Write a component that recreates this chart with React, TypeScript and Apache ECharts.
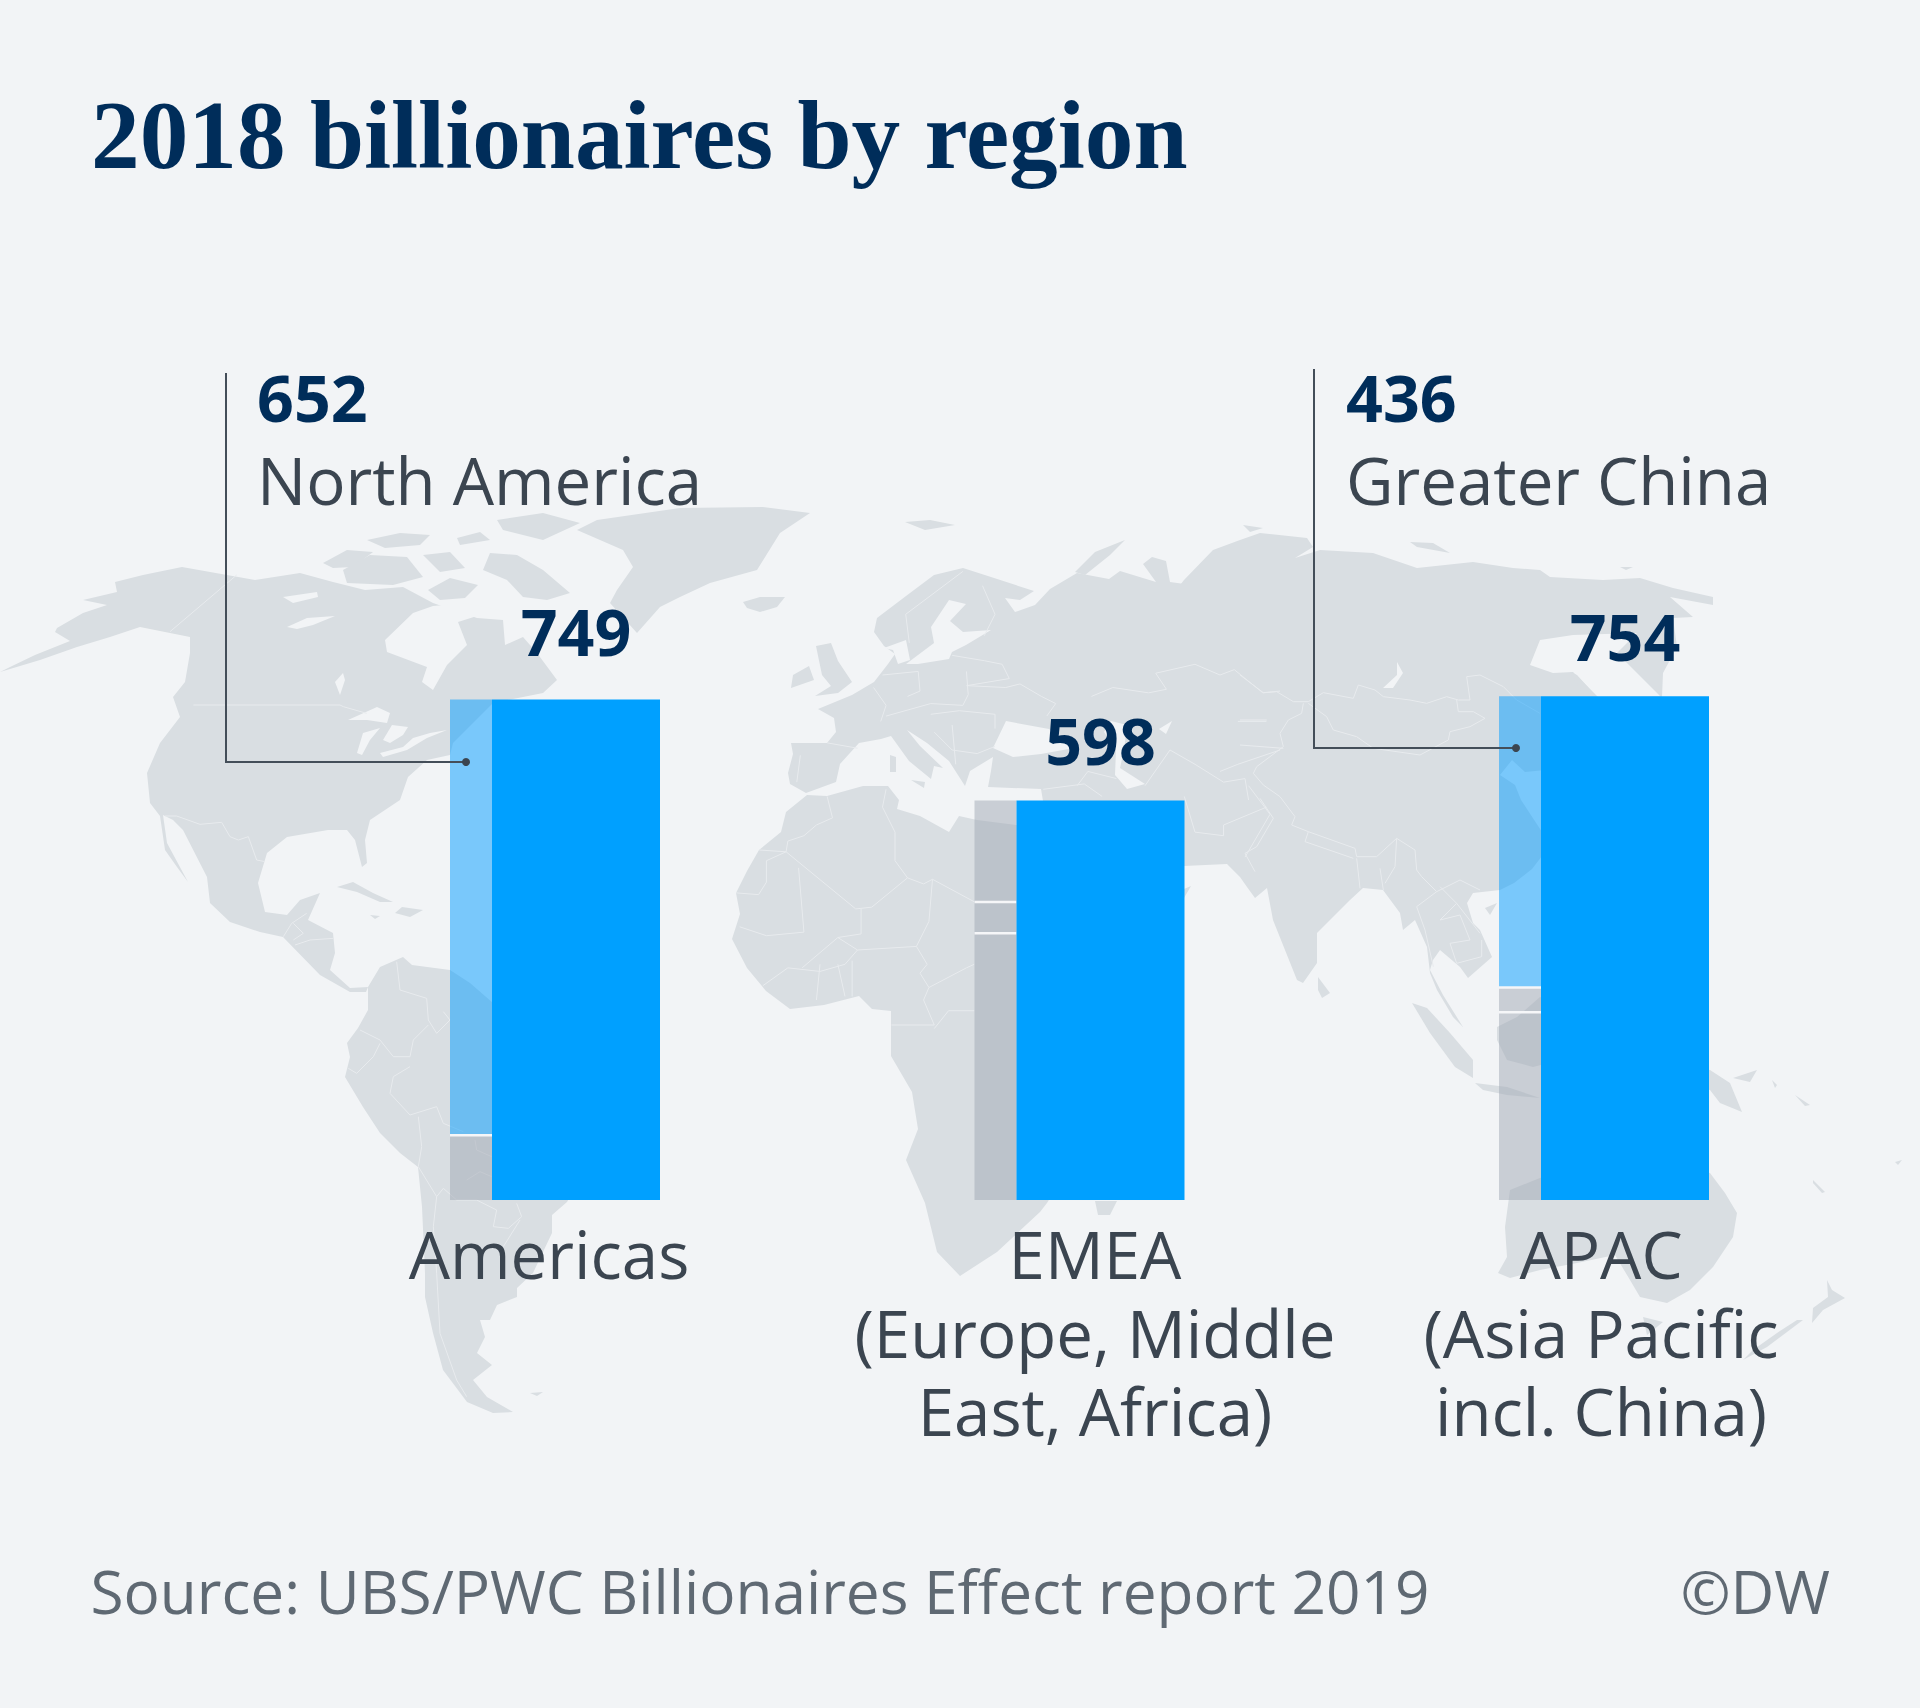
import React, { useEffect, useRef } from "react";
import * as echarts from "echarts";

// ---------- chart data ----------
const regions = ["Americas", "EMEA", "APAC"];
const totals = [749, 598, 754];
const totalLabelGap = [36, 28, 28];
const backBottom = [97, 399, 281];
const backMiddle: (number | string)[] = ["-", 47, 37];
const backTop = [652, 152, 436];
const backTopBlue = [true, false, true];
const regionLabels = [
  ["Americas"],
  ["EMEA", "(Europe, Middle", "East, Africa)"],
  ["APAC", "(Asia Pacific", "incl. China)"],
];
const regionLabelX = [549, 1095, 1601];
const callouts = [
  { name: "North America", region: 0, lineX: 226, topY: 373, elbowY: 762, dotX: 466, textX: 257 },
  { name: "Greater China", region: 2, lineX: 1314, topY: 369, elbowY: 748, dotX: 1516, textX: 1346 },
];
const title = "2018 billionaires by region";
const source = "Source: UBS/PWC Billionaires Effect report 2019";
const credit = "©DW";

// ---------- base map (page pixels) ----------
type P = number[][];
const land: P[] = [
  // North America
  [[115,582],[143,575],[182,567],[227,575],[255,580],[300,573],[333,582],[365,590],[403,587],[433,603],[477,618],[503,620],[505,645],[523,637],[537,653],[557,680],[543,693],[493,703],[453,743],[450,755],[427,760],[408,777],[400,800],[370,820],[365,840],[367,863],[362,867],[355,840],[347,830],[328,830],[287,837],[267,853],[258,883],[265,912],[287,915],[300,900],[320,893],[308,920],[333,933],[335,953],[330,970],[350,988],[368,987],[366,992],[350,992],[320,975],[283,937],[260,932],[230,922],[210,903],[207,877],[183,830],[173,820],[163,815],[167,843],[188,882],[177,867],[165,850],[160,816],[150,803],[147,773],[160,743],[180,717],[173,697],[185,682],[190,653],[190,637],[170,633],[140,627],[110,637],[77,647],[40,660],[0,672],[10,667],[35,655],[70,641],[55,632],[57,628],[83,613],[107,605],[83,600],[117,592]],
  // Arctic islands
  [[323,563],[347,550],[373,552],[353,567],[333,568]],
  [[343,570],[370,555],[407,557],[423,577],[393,585],[347,583]],
  [[490,553],[517,555],[543,570],[570,593],[547,600],[523,597],[507,580],[483,570]],
  [[497,520],[543,513],[580,523],[543,540],[503,530]],
  [[367,540],[400,533],[430,535],[420,545],[385,548]],
  [[457,538],[480,532],[490,540],[460,545]],
  [[423,555],[450,552],[465,568],[440,572]],
  [[428,590],[450,578],[478,585],[465,598],[440,600]],
  // Greenland
  [[577,530],[623,550],[633,567],[617,590],[610,603],[637,633],[660,607],[680,597],[710,583],[757,570],[780,533],[810,513],[763,507],[680,508],[597,520]],
  // Iceland
  [[743,602],[760,597],[785,597],[777,607],[760,612],[747,608]],
  // Caribbean
  [[337,887],[353,882],[373,893],[393,902],[380,902],[357,892]],
  [[402,907],[423,910],[410,917],[395,913]],
  [[370,915],[380,916],[375,919]],
  // South America
  [[368,987],[380,967],[403,957],[412,965],[450,970],[470,983],[493,1003],[560,1040],[600,1100],[590,1160],[567,1202],[552,1215],[552,1233],[533,1273],[517,1288],[517,1297],[497,1305],[490,1320],[480,1320],[485,1337],[477,1353],[492,1365],[473,1380],[487,1397],[513,1412],[493,1413],[467,1402],[443,1370],[433,1333],[425,1297],[425,1273],[422,1207],[418,1167],[400,1153],[380,1133],[363,1107],[345,1077],[350,1057],[347,1043],[358,1028],[368,1010]],
  [[530,1393],[543,1392],[537,1396]],
  // Africa
  [[807,795],[786,812],[781,832],[759,850],[747,871],[736,893],[740,914],[732,939],[747,968],[766,991],[790,1009],[824,1005],[859,996],[872,1009],[891,1011],[891,1056],[912,1092],[918,1129],[906,1160],[925,1203],[937,1252],[960,1276],[997,1252],[1040,1212],[1047,1203],[1080,1150],[1110,1080],[1150,960],[1184,898],[1191,886],[1184,889],[1140,880],[1060,830],[1016,825],[977,820],[959,816],[949,832],[920,816],[897,809],[899,800],[888,786],[863,786],[827,796]],
  [[1095,1201],[1117,1201],[1110,1215],[1098,1215]],
  // Eurasia
  [[806,793],[790,784],[788,773],[793,754],[791,743],[827,743],[836,732],[834,718],[818,709],[852,695],[874,682],[888,664],[895,654],[884,646],[874,632],[877,618],[906,596],[934,575],[963,568],[991,577],[1034,591],[1020,600],[1005,598],[1015,612],[1035,605],[1050,589],[1077,573],[1109,579],[1120,571],[1156,582],[1143,564],[1152,557],[1166,561],[1170,582],[1199,586],[1174,593],[1184,580],[1213,550],[1240,540],[1260,533],[1307,538],[1313,547],[1295,558],[1320,550],[1373,553],[1417,568],[1473,562],[1513,568],[1540,570],[1550,577],[1603,580],[1640,578],[1673,588],[1713,597],[1713,605],[1670,597],[1693,617],[1673,618],[1677,647],[1663,673],[1662,697],[1650,720],[1620,760],[1570,800],[1545,770],[1525,772],[1512,760],[1500,775],[1515,785],[1521,800],[1542,832],[1542,856],[1532,869],[1514,883],[1500,890],[1473,893],[1467,903],[1473,923],[1480,930],[1492,957],[1468,978],[1460,967],[1440,950],[1433,960],[1430,970],[1443,995],[1463,1027],[1453,1017],[1437,990],[1430,973],[1427,947],[1415,920],[1403,930],[1400,913],[1383,890],[1363,888],[1350,900],[1317,933],[1317,963],[1303,983],[1297,980],[1273,920],[1267,888],[1255,898],[1247,887],[1240,877],[1227,864],[1184,866],[1120,850],[1043,801],[1041,789],[988,787],[991,771],[993,757],[970,771],[965,786],[949,761],[927,743],[907,730],[920,746],[943,768],[934,766],[931,779],[909,761],[891,736],[881,739],[859,743],[840,764],[836,782]],
  // British Isles, Med islands
  [[816,646],[831,643],[838,661],[852,682],[838,693],[815,696],[831,686],[822,675]],
  [[793,675],[809,666],[814,680],[791,688]],
  [[911,780],[925,782],[924,788]],
  [[890,755],[896,757],[896,772],[890,772]],
  // Arctic Eurasia
  [[905,522],[930,520],[955,525],[925,530]],
  [[1075,572],[1095,552],[1125,540],[1110,555],[1085,575]],
  [[1410,542],[1433,543],[1450,553],[1417,547]],
  [[1620,567],[1633,567],[1626,570]],
  [[1243,525],[1263,528],[1250,532]],
  // SE Asia, Oceania
  [[1318,977],[1330,993],[1322,998],[1318,990]],
  [[1485,908],[1497,903],[1490,915]],
  [[1412,1003],[1427,1008],[1450,1033],[1473,1060],[1473,1078],[1455,1067],[1430,1033]],
  [[1475,1083],[1507,1087],[1540,1098],[1507,1095],[1483,1090]],
  [[1497,1027],[1517,1017],[1540,997],[1570,1010],[1560,1060],[1533,1067],[1507,1060],[1497,1040]],
  [[1650,1060],[1710,1070],[1730,1083],[1742,1112],[1720,1103],[1710,1090],[1660,1080]],
  [[1733,1078],[1757,1070],[1750,1082]],
  [[1772,1080],[1777,1085],[1775,1088]],
  [[1795,1095],[1810,1105],[1805,1106]],
  [[1510,1190],[1530,1182],[1540,1178],[1620,1150],[1710,1173],[1725,1193],[1737,1213],[1733,1237],[1713,1267],[1690,1290],[1667,1303],[1640,1297],[1630,1280],[1615,1255],[1577,1263],[1540,1270],[1510,1278],[1498,1273],[1507,1257],[1505,1227]],
  [[1643,1317],[1663,1322],[1647,1335]],
  [[1827,1280],[1832,1290],[1845,1298],[1823,1310],[1812,1323],[1813,1308],[1828,1297]],
  [[1803,1320],[1767,1347],[1743,1360],[1753,1350],[1777,1333],[1797,1320]],
  [[1813,1180],[1825,1192],[1822,1193],[1813,1183]],
  [[1895,1162],[1902,1160],[1898,1165]],
];
const water: P[] = [
  // Hudson Bay and Strait
  [[385,640],[413,613],[433,606],[465,603],[500,610],[477,616],[458,622],[467,645],[447,665],[433,690],[422,682],[427,667],[387,652]],
  // Canadian & Great Lakes
  [[283,597],[317,592],[318,597],[293,603]],
  [[287,627],[307,618],[335,616],[313,625],[297,629]],
  [[335,682],[343,673],[345,680],[340,695]],
  [[348,720],[377,707],[390,713],[387,723],[367,720]],
  [[357,753],[363,733],[380,728],[370,740],[362,755]],
  [[383,740],[392,725],[408,727],[403,735],[390,743]],
  [[380,753],[403,747],[413,738],[430,733],[447,730],[427,738],[407,750],[383,757]],
  // Baltic, Skagerrak
  [[906,664],[934,643],[931,627],[949,600],[966,604],[950,621],[963,632],[991,630],[966,645],[952,652],[949,659],[918,664]],
  [[884,648],[906,640],[910,660],[898,664],[893,650]],
  // Black Sea, Caspian, Aral, Baikal
  [[993,748],[1006,721],[1027,725],[1049,729],[1074,748],[1041,754],[1013,757]],
  [[1111,721],[1127,725],[1124,750],[1120,768],[1145,784],[1127,789],[1115,775],[1116,750],[1104,732]],
  [[1159,729],[1172,721],[1166,734]],
  [[1397,662],[1403,673],[1393,688],[1383,688],[1397,675]],
  // Sea of Okhotsk
  [[1530,665],[1540,640],[1573,635],[1637,633],[1617,653],[1660,696],[1598,697],[1573,672],[1553,673]],
];
const lateLand: P[] = [
  [[1570,672],[1577,675],[1597,697],[1585,697]],
];
const zz = (ox: number, oy: number, s: number, lines: P[]): P[] =>
  lines.map((l) => l.map(([x, y]) => [ox + x / s, oy + y / s]));
const borders: P[] = [
  ...zz(0, 490, 3, [
    [[510,425],[710,255]],
    [[580,645],[1020,645],[1030,650],[1100,670]],
    [[495,978],[530,978],[600,1003],[665,997],[690,1040],[715,1050],[745,1040],[770,1110],[795,1115]],
    [[850,1340],[875,1300],[920,1270]],
    [[880,1350],[910,1330],[880,1300]],
    [[885,1365],[930,1350],[1000,1345]],
  ]),
  ...zz(300, 940, 3, [
    [[290,65],[300,150],[380,175],[385,240],[410,280],[450,240],[430,215]],
    [[180,270],[240,300],[280,350],[330,350],[340,300],[385,255]],
    [[240,310],[220,350],[170,400],[145,385]],
    [[330,380],[280,410],[270,460],[330,525],[410,500],[430,550],[490,575]],
    [[355,530],[365,620],[355,680],[410,770],[430,745],[470,780],[530,780],[590,810],[580,860],[625,865],[665,830],[650,790]],
    [[410,770],[400,860],[410,1000],[420,1180],[470,1320],[500,1370]],
    [[660,840],[610,920]],
    [[525,600],[530,630],[575,650]],
    [[500,720],[540,695],[575,710]],
  ]),
  ...zz(720, 550, 2.8, [
    [[300,690],[315,750],[270,770],[235,800],[190,815],[185,845],[110,840]],
    [[185,845],[130,870],[130,930],[108,965],[45,960]],
    [[185,845],[380,1005],[425,1000],[525,918],[570,935],[595,922],[712,985]],
    [[465,670],[455,720],[490,790],[490,870],[525,918]],
    [[220,890],[235,1070],[130,1080],[55,1055]],
    [[395,1005],[395,1075],[330,1085],[230,1170]],
    [[595,922],[585,1040],[550,1110],[385,1120],[330,1085]],
    [[550,1110],[580,1160],[560,1185],[585,1225],[570,1260],[600,1330]],
    [[585,1225],[690,1170],[712,1160]],
    [[600,1340],[640,1290],[712,1290]],
    [[480,1330],[600,1330]],
    [[120,1220],[190,1170],[280,1180],[350,1160],[385,1120]],
    [[280,1160],[270,1260]],
    [[330,1160],[350,1250]],
    [[370,1150],[370,1250]],
    [[430,385],[465,435],[450,480]],
    [[455,350],[555,340],[560,395],[525,410]],
    [[690,340],[695,405],[680,435]],
    [[465,465],[590,430],[680,435]],
    [[695,380],[800,385],[840,375],[900,410],[940,430],[915,465]],
    [[225,575],[215,650]],
    [[300,540],[385,555]],
    [[590,460],[670,450],[770,460],[770,500]],
    [[600,510],[650,560],[720,570],[770,550]],
    [[650,490],[660,600]],
    [[650,295],[740,310],[790,320],[810,360],[690,380]],
    [[735,100],[770,180],[740,240]],
    [[680,60],[520,180],[530,260]],
    [[1040,410],[1100,385],[1200,400],[1250,390],[1220,345],[1330,320],[1400,350],[1440,335],[1520,400],[1568,395]],
    [[1000,660],[1030,620],[1110,640]],
    [[1190,660],[1260,560],[1330,600],[1410,650],[1470,640],[1480,700]],
    [[1300,690],[1330,790],[1410,800],[1410,770],[1530,720]],
    [[1480,660],[1540,740],[1470,860]],
    [[905,670],[1020,655],[1070,690]],
    [[1400,620],[1450,600],[1568,560]],
    [[1450,480],[1530,480]],
  ]),
  ...zz(1240, 500, 3, [
    [[0,525],[70,578],[110,575],[160,605],[205,605],[250,578],[340,595],[355,555],[405,570],[430,590],[510,600],[560,610],[620,590],[655,600],[690,600],[680,530],[720,525],[790,560],[830,600],[900,640]],
    [[205,610],[260,650],[280,690],[350,710],[400,745],[540,765],[625,720],[630,695],[690,680],[735,655],[700,635],[655,635],[650,600]],
    [[130,740],[120,700],[145,660],[185,640],[190,610]],
    [[130,740],[50,800],[40,820],[70,855],[120,890],[165,950],[155,975],[205,995],[345,1045],[350,1070],[410,1070],[470,1015],[525,1050],[530,1110],[545,1130],[590,1175],[660,1140],[720,1170]],
    [[205,995],[195,1025],[340,1075]],
    [[350,1075],[360,1165]],
    [[420,1105],[430,1170]],
    [[470,1015],[465,1100],[435,1150]],
    [[590,1175],[530,1220],[555,1290],[580,1400]],
    [[600,1160],[650,1210],[600,1260],[660,1245],[690,1320],[630,1330],[650,1390],[725,1370],[725,1320]],
    [[650,1210],[720,1300]],
    [[0,660],[80,660]],
    [[0,735],[130,745]],
    [[60,895],[100,955],[50,1040],[15,1060],[45,1115]],
  ]),
];

const BG = "#f2f4f6";
const LAND = "#d9dee2";
const LINE = "#e8ebee";
const NAVY = "#002d5a";
const INK = "#3b4550";
const MUTED = "#5f6973";
const SANS = '"Open Sans", sans-serif';

const poly = (points: P, fill: string, z: number) => ({
  type: "polygon",
  silent: true,
  z,
  shape: { points },
  style: { fill },
});
const text = (s: string, x: number, baseline: number, size: number, fill: string, weight: number | string = 400, align = "left", family = SANS) => ({
  type: "text",
  silent: true,
  z: 60,
  x,
  y: baseline - size * (family === SANS ? 0.388 : 0.33),
  style: { text: s, fill, align, verticalAlign: "middle", font: `${weight} ${size}px ${family}` },
});
const LABEL_LINE = 78.4;
const LABEL_SIZE = 65.4;
const block = (lines: string[], x: number, firstBaseline: number) => ({
  type: "text",
  silent: true,
  z: 60,
  x,
  y: firstBaseline - LABEL_SIZE * 0.388 - LABEL_LINE / 2,
  style: {
    text: lines.join("\n"),
    fill: INK,
    align: "center",
    verticalAlign: "top",
    lineHeight: LABEL_LINE,
    font: `400 ${LABEL_SIZE}px ${SANS}`,
  },
});

export default function App() {
  const ref = useRef<HTMLDivElement>(null);
  useEffect(() => {
    if (!ref.current) return;
    const chart = echarts.init(ref.current, undefined, { renderer: "svg" });
    const graphic: any[] = [
      ...land.map((p) => poly(p, LAND, -30)),
      ...water.map((p) => poly(p, BG, -29)),
      ...lateLand.map((p) => poly(p, LAND, -28)),
      ...borders.map((points) => ({
        type: "polyline",
        silent: true,
        z: -27,
        shape: { points },
        style: { stroke: LINE, lineWidth: 1, fill: "none" },
      })),
      text(title, 91, 167, 97.3, NAVY, 700, "left", '"Liberation Serif", serif'),
      ...callouts.flatMap((c) => [
        {
          type: "polyline",
          silent: true,
          z: 50,
          shape: { points: [[c.lineX, c.topY], [c.lineX, c.elbowY], [c.dotX, c.elbowY]] },
          style: { stroke: "#444e59", lineWidth: 2, fill: "none" },
        },
        { type: "circle", silent: true, z: 51, shape: { cx: c.dotX, cy: c.elbowY, r: 4 }, style: { fill: "#3b4550" } },
        text(String(backTop[c.region]), c.textX, 422, 64.5, NAVY, 700),
        text(c.name, c.textX, 504.5, LABEL_SIZE, INK),
      ]),
      ...regionLabels.map((lines, i) => block(lines, regionLabelX[i], 1279)),
      text(source, 90.5, 1614, 60.3, MUTED),
      text(credit, 1830, 1614, 60.3, MUTED, 400, "right"),
    ];

    const separators: number[][] = [];
    regions.forEach((_, i) => {
      const mid = typeof backMiddle[i] === "number" ? (backMiddle[i] as number) : 0;
      separators.push([i, backBottom[i]]);
      if (mid) separators.push([i, backBottom[i] + mid]);
    });

    const blue = "rgba(0,155,255,0.5)";
    const grey = "rgba(159,167,179,0.5)";

    chart.setOption({
      animation: false,
      backgroundColor: BG,
      graphic: { elements: graphic },
      grid: { left: 292.75, width: 1573.5, bottom: 508, top: 665.4 },
      xAxis: { type: "category", data: regions, show: false },
      yAxis: { type: "value", min: 0, max: 800, show: false, splitLine: { show: false } },
      series: [
        { type: "bar", name: "Other (lower)", stack: "back", barWidth: 42, barGap: 0, z: 2, data: backBottom, itemStyle: { color: grey } },
        { type: "bar", name: "Other (middle)", stack: "back", barWidth: 42, z: 2, data: backMiddle, itemStyle: { color: grey } },
        {
          type: "bar",
          name: "Largest sub-region",
          stack: "back",
          barWidth: 42,
          z: 2,
          data: backTop.map((v, i) => ({ value: v, itemStyle: { color: backTopBlue[i] ? blue : grey } })),
        },
        {
          type: "custom",
          name: "Dividers",
          z: 3,
          silent: true,
          data: separators,
          encode: { x: 0, y: 1 },
          renderItem: (_p: any, api: any) => {
            const c = api.coord([api.value(0), api.value(1)]);
            return { type: "rect", shape: { x: c[0] - 105, y: c[1] - 1.25, width: 42, height: 2.5 }, style: { fill: "#f5f6f8" } };
          },
        },
        {
          type: "bar",
          name: "Total",
          barWidth: 168,
          barGap: 0,
          z: 4,
          data: totals.map((v, i) => ({ value: v, label: { distance: totalLabelGap[i] } })),
          itemStyle: { color: "#00a0ff" },
          label: {
            show: true,
            position: "top",
            distance: 36,
            color: NAVY,
            fontFamily: SANS,
            fontWeight: 700,
            fontSize: 64.5,
            lineHeight: 64,
          },
        },
      ],
    });
    return () => chart.dispose();
  }, []);
  return <div ref={ref} style={{ position: "absolute", left: 0, top: 0, width: 1920, height: 1708 }} />;
}
